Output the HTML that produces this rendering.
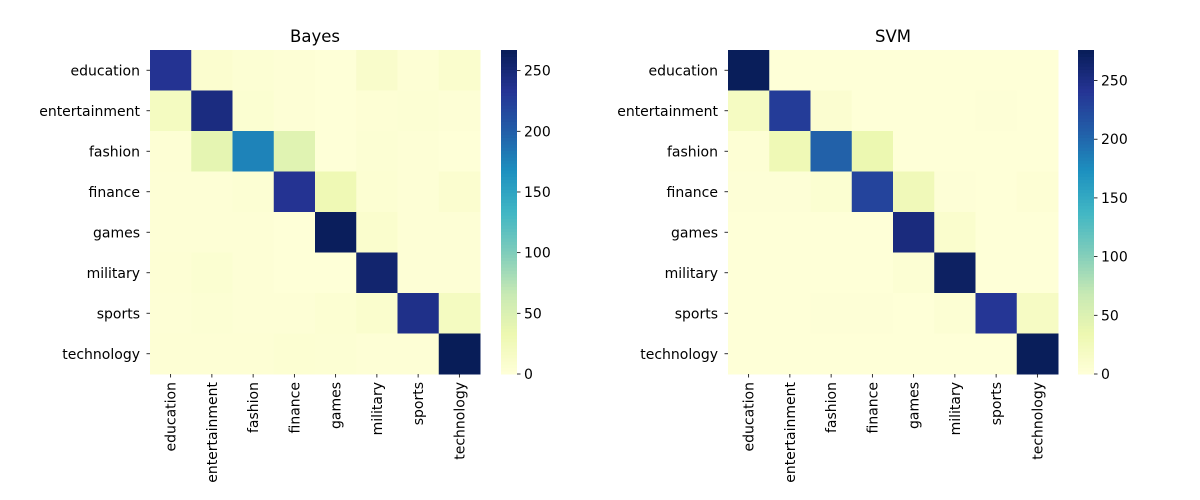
<!DOCTYPE html>
<html><head><meta charset="utf-8"><style>
body{margin:0;background:#fff;}
svg{display:block;font-family:"DejaVu Sans","Liberation Sans",sans-serif;}
</style></head><body>
<svg id="chart" width="1200" height="500" viewBox="0 0 1200 500"></svg>
<script>
const categories = ["education","entertainment","fashion","finance","games","military","sports","technology"];
const bayesValues = [
 [235,8,5,3,2,12,4,10],
 [20,245,7,3,2,4,5,3],
 [4,40,176,45,2,5,3,2],
 [3,3,5,235,30,6,3,8],
 [3,3,3,2,265,10,3,3],
 [4,7,3,2,2,255,3,3],
 [3,5,3,3,6,10,240,20],
 [4,4,4,6,5,3,3,267]
];
const svmValues = [
 [275,2,2,2,2,2,2,2],
 [20,235,8,2,2,2,3,2],
 [4,30,205,35,2,2,2,2],
 [3,3,7,228,28,3,2,4],
 [2,2,2,2,255,10,2,2],
 [2,2,2,2,5,270,2,2],
 [2,2,3,3,2,5,240,18],
 [2,2,2,2,2,2,2,275]
];
const bayesTicks = [0,50,100,150,200,250];
const svmTicks = [0,50,100,150,200,250];
const bayesMax = 267, svmMax = 276;

const stops = ["#ffffd9","#edf8b1","#c7e9b4","#7fcdbb","#41b6c4","#1d91c0","#225ea8","#253494","#081d58"];
function hex(h){return [1,3,5].map(i=>parseInt(h.substr(i,2),16));}
function cmap(t){t=Math.max(0,Math.min(1,t));const p=t*(stops.length-1);const i=Math.min(stops.length-2,Math.floor(p));const f=p-i;const a=hex(stops[i]),b=hex(stops[i+1]);return "rgb("+a.map((v,k)=>Math.round(v+(b[k]-v)*f)).join(",")+")";}
const NS="http://www.w3.org/2000/svg";
const svg=document.getElementById("chart");
function el(tag,attrs,parent){const e=document.createElementNS(NS,tag);for(const k in attrs)e.setAttribute(k,attrs[k]);(parent||svg).appendChild(e);return e;}

function panel(title,values,maxV,ticks,x0,cbx,key){
  const g=el("g",{});
  
  
  const y0=50,W=330,H=324,n=categories.length,cw=W/n,ch=H/n;
  const xs=i=>x0+i*cw, ys=j=>y0+j*ch;
  const t=el("text",{x:x0+W/2,y:42,"text-anchor":"middle","font-size":16.5,fill:"#000"},g);
  t.textContent=title;
  
  
  values.forEach((row,j)=>row.forEach((v,i)=>{
    const r=el("rect",{x:xs(i),y:ys(j),width:cw+0.5,height:ch+0.5,fill:cmap(v/maxV)},g);
    
    
  }));
  categories.forEach((c,j)=>{
    const yy=ys(j)+ch/2;
    el("line",{x1:x0-3.5,x2:x0,y1:yy,y2:yy,stroke:"#000","stroke-width":0.8},g);
    const l=el("text",{x:x0-10,y:yy+5,"text-anchor":"end","font-size":14,fill:"#000"},g);
    l.textContent=c;
    
    
  });
  categories.forEach((c,i)=>{
    const xx=xs(i)+cw/2;
    el("line",{x1:xx,x2:xx,y1:y0+H,y2:y0+H+3.5,stroke:"#000","stroke-width":0.8},g);
    const l=el("text",{x:0,y:0,"text-anchor":"end","font-size":14,fill:"#000",transform:"translate("+(xx+5)+","+(y0+H+8)+") rotate(-90)"},g);
    l.textContent=c;
    
    
  });
  const cb=el("g",{},g);
  
  
  const cbw=16,steps=100;
  for(let s=0;s<steps;s++){
    el("rect",{x:cbx,y:y0+H-(s+1)*H/steps,width:cbw,height:H/steps+0.5,fill:cmap((s+0.5)/steps)},cb);
  }
  const cy=v=>y0+H-v/maxV*H;
  ticks.forEach(v=>{
    const yy=cy(v);
    el("line",{x1:cbx+cbw,x2:cbx+cbw+3.5,y1:yy,y2:yy,stroke:"#000","stroke-width":0.8},cb);
    const l=el("text",{x:cbx+cbw+7,y:yy+5,"font-size":14,fill:"#000"},cb);
    l.textContent=v;
    
    
  });
}
panel("Bayes",bayesValues,bayesMax,bayesTicks,150,501,"bayes");
panel("SVM",svmValues,svmMax,svmTicks,728,1078,"svm");
</script>
</body></html>
